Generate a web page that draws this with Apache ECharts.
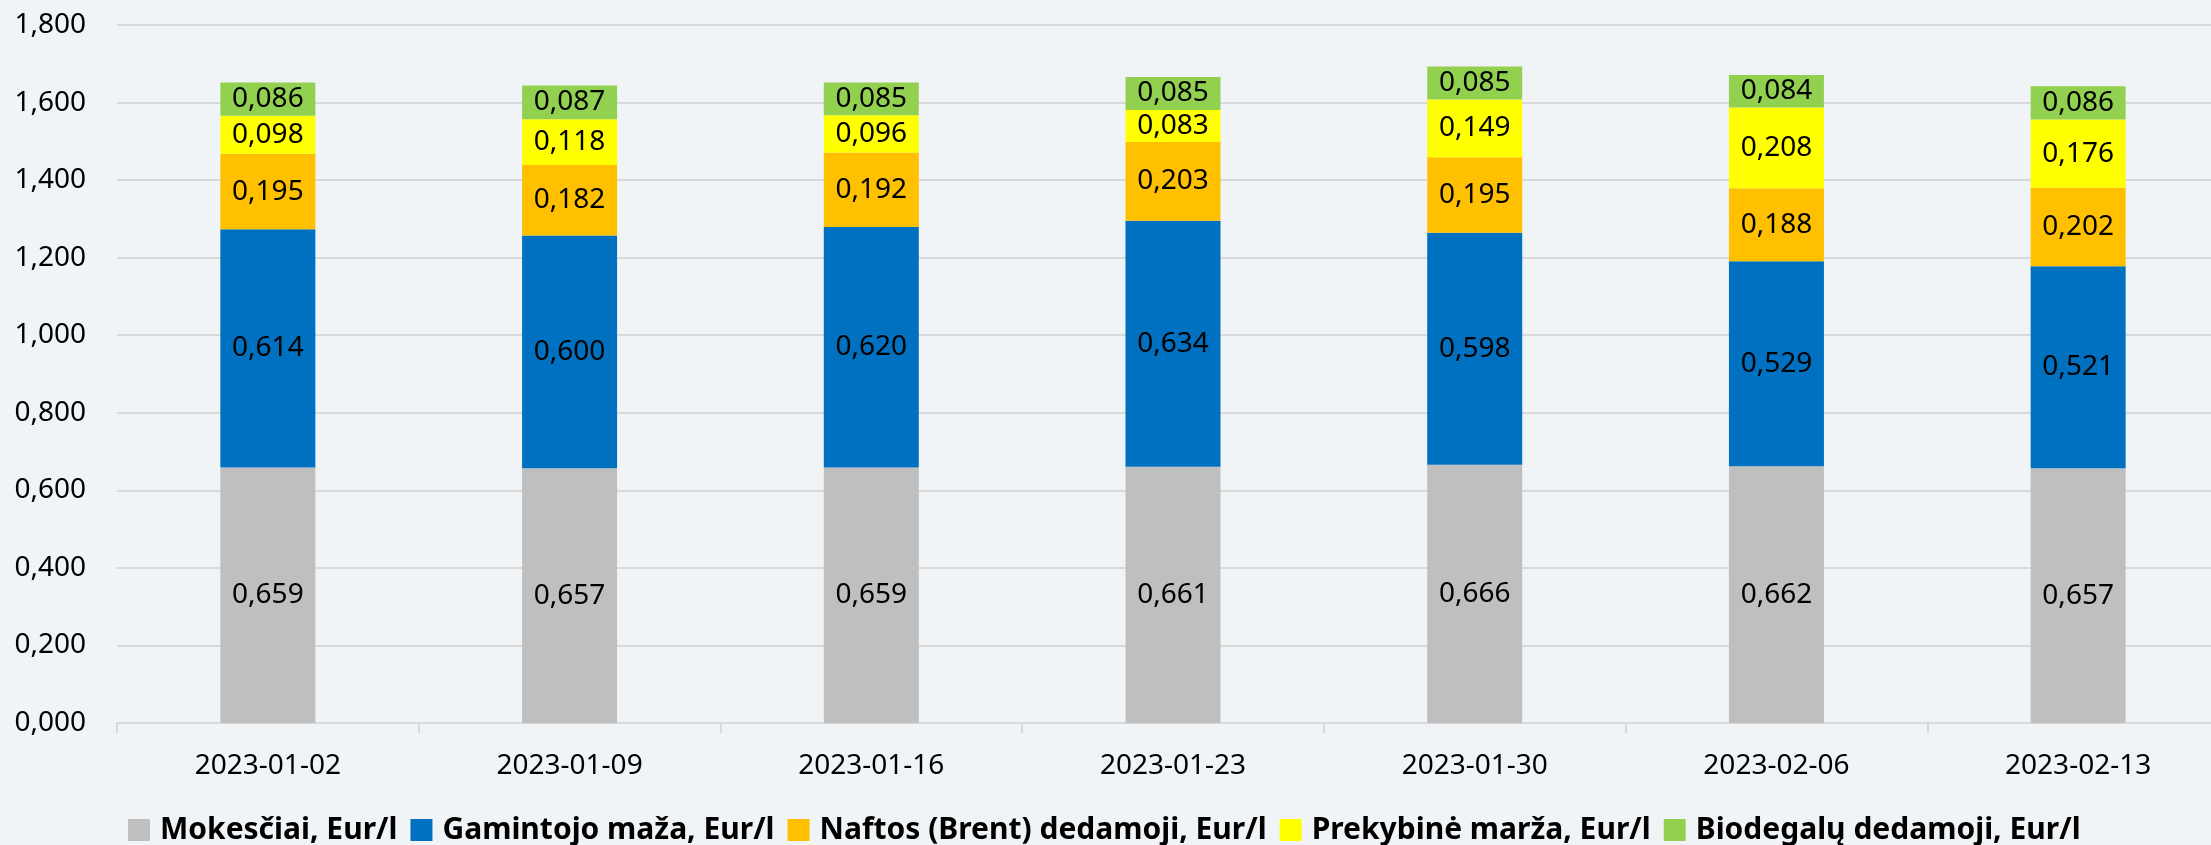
<!DOCTYPE html>
<html>
<head>
<meta charset="utf-8">
<script src="https://cdn.jsdelivr.net/npm/echarts@6/dist/echarts.min.js"></script>
<style>
    html, body { margin: 0; padding: 0; background: #F1F4F7; }
    #chart { width: 2211px; height: 845px; }
</style>
</head>
<body>
<div id="chart"></div>
<script>
// datos (savaitės)
var dates = ['2023-01-02', '2023-01-09', '2023-01-16', '2023-01-23', '2023-01-30', '2023-02-06', '2023-02-13'];
var mokesciai = [0.659, 0.657, 0.659, 0.661, 0.666, 0.662, 0.657];
var gamintojo = [0.614, 0.600, 0.620, 0.634, 0.598, 0.529, 0.521];
var naftos = [0.195, 0.182, 0.192, 0.203, 0.195, 0.188, 0.202];
var prekybine = [0.098, 0.118, 0.096, 0.083, 0.149, 0.208, 0.176];
var biodegalu = [0.086, 0.087, 0.085, 0.085, 0.085, 0.084, 0.086];

var names = ['Mokesčiai, Eur/l', 'Gamintojo maža, Eur/l', 'Naftos (Brent) dedamoji, Eur/l', 'Prekybinė marža, Eur/l', 'Biodegalų dedamoji, Eur/l'];
var colors = ['#BFBFBF', '#0070C0', '#FFC000', '#FFFF00', '#92D050'];
var values = [mokesciai, gamintojo, naftos, prekybine, biodegalu];

var FONT = 'Noto Sans';

function fmt(v) {
    return v.toFixed(3).replace('.', ',');
}

var series = [];
for (var i = 0; i < names.length; i++) {
    series.push({
        name: names[i],
        type: 'bar',
        stack: 'kaina',
        barWidth: 95,
        itemStyle: { color: colors[i] },
        label: {
            show: true,
            position: 'inside',
            color: '#000',
            fontFamily: FONT,
            fontSize: 28,
            formatter: function (p) { return fmt(p.value); }
        },
        data: values[i]
    });
}

var chart = echarts.init(document.getElementById('chart'));
chart.setOption({
    backgroundColor: '#F1F4F7',
    animation: false,
    // plotas išeina už dešinio krašto, kaip originale
    grid: { left: 117, width: 2112, top: 25, bottom: 122, outerBoundsMode: 'none' },
    legend: {
        top: 810,
        left: 123,
        itemWidth: 22,
        itemHeight: 22,
        itemGap: 13,
        icon: 'rect',
        textStyle: { fontFamily: FONT, fontSize: 30, fontWeight: 'bold', color: '#000', padding: [0, 0, 0, 5] },
        data: names
    },
    xAxis: {
        type: 'category',
        data: dates,
        axisLine: { lineStyle: { color: '#D9D9D9', width: 2 } },
        axisTick: { show: true, length: 10, lineStyle: { color: '#D9D9D9', width: 2 } },
        axisLabel: { fontFamily: FONT, fontSize: 28, color: '#000', margin: 29 }
    },
    yAxis: {
        type: 'value',
        min: 0,
        max: 1.8,
        interval: 0.2,
        axisLine: { show: false },
        axisTick: { show: false },
        splitLine: { lineStyle: { color: '#D9D9D9', width: 2 } },
        axisLabel: {
            fontFamily: FONT, fontSize: 28, color: '#000', margin: 31,
            formatter: function (v) { return fmt(v); }
        }
    },
    series: series
});
</script>
</body>
</html>
